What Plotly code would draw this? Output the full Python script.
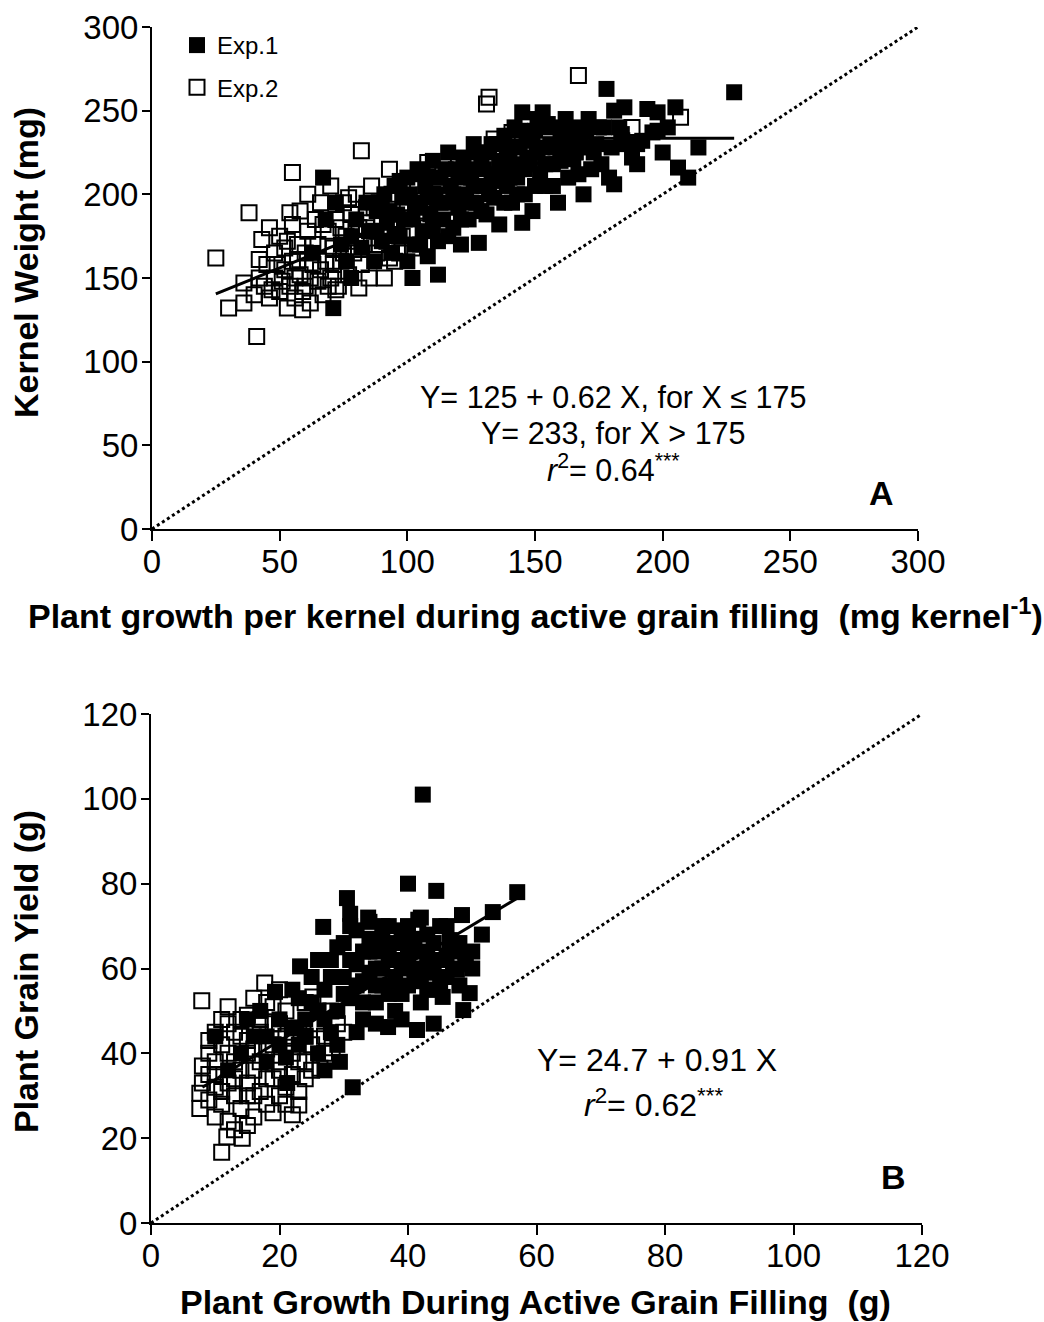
import plotly.graph_objects as go

# ---------------- Panel A data (Kernel weight vs plant growth per kernel) ----------------
a_exp1_x = [76, 78, 80, 82, 84, 85, 87, 88, 90, 91, 92, 94, 95, 96,
            97, 98, 100, 100, 102, 103, 104, 105, 106, 107, 108, 109, 110, 111, 112, 113, 114, 115,
            116, 117, 118, 119, 120, 121, 122, 123, 124, 125, 126, 127, 128, 129, 130, 131, 132, 133, 134, 135,
            136, 137, 138, 139, 140, 141, 142, 143, 144, 145, 145, 146, 147, 148, 149, 150, 151, 152, 153, 154, 155,
            156, 157, 159, 160, 161, 162, 163, 165, 166, 168, 169, 170, 172, 173, 175, 177, 178, 179, 181, 181,
            184, 185, 188, 190, 194, 196, 198, 200, 205, 206, 210, 214, 228,
            67, 71, 102, 112, 68, 72, 74, 78, 63,
            88, 90, 93, 95, 97, 99, 101, 103, 105, 106, 108, 110, 111, 113, 115, 116, 118, 120, 121, 123,
            125, 126, 128, 129, 130, 132, 133, 135, 136, 138, 139, 140, 142, 143, 144, 146, 147, 149, 150, 151,
            153, 154, 156, 157, 158, 160, 162, 164, 166, 167, 170, 171, 174, 176, 180, 183, 186, 192, 190, 198, 202]
a_exp1_y = [160, 175, 185, 168, 195, 178, 160, 190, 172, 200, 183, 165, 205, 188,
            175, 198, 210, 160, 185, 170, 215, 195, 178, 205, 163, 188, 220, 200, 172, 210, 185, 195,
            225, 205, 180, 215, 192, 170, 222, 200, 185, 210, 230, 195, 171, 218, 205, 188, 225, 212, 198, 230,
            182, 215, 235, 205, 222, 195, 240, 210, 228, 183, 249, 200, 232, 218, 190, 238, 225, 212, 249, 205, 242,
            230, 218, 195, 238, 233, 245, 210, 221, 240, 234, 200, 228, 215, 225, 240, 240, 263, 210, 250, 206,
            236, 252, 222, 230, 251, 237, 249, 225, 252, 216, 210, 228, 261,
            210, 132, 150, 152, 185, 195, 170, 150, 165,
            178, 195, 190, 175, 208, 185, 200, 192, 170, 212, 198, 180, 210, 195, 215, 175, 200, 210, 185, 215,
            195, 205, 225, 190, 215, 200, 230, 208, 220, 195, 228, 210, 218, 200, 238, 215, 222, 235, 205, 245,
            228, 218, 240, 205, 228, 220, 230, 236, 225, 212, 238, 245, 230, 218, 228, 240, 230, 232, 218, 238, 240]

a_exp2_x = [25, 30, 36, 36, 38, 41, 42, 43, 46, 54, 55, 61, 53, 59, 72, 81, 91, 93, 82, 93, 108,
            131, 132, 167, 207, 134, 141, 184, 188, 120, 145,
            40, 42, 44, 45, 46, 48, 48, 50, 50, 52, 52, 54, 55, 55, 56, 57, 58, 58, 60, 60, 61, 62, 63, 64,
            65, 65, 66, 67, 68, 69, 70, 70, 71, 72, 73, 74, 75, 76, 77, 78, 79, 80, 81, 82, 83, 84, 85, 86,
            87, 88, 89, 90, 92, 94, 95, 96, 98, 100, 102, 104, 106, 108, 110,
            47, 49, 51, 53, 56, 57, 59, 62, 63, 66, 67, 69, 71, 74, 75, 77, 80, 84, 87, 89, 93, 97]
a_exp2_y = [162, 132, 135, 147, 189, 115, 161, 173, 180, 189, 213, 200, 132, 131, 143, 144, 150, 162, 226, 215, 219,
            254, 258, 271, 246, 233, 237, 232, 240, 218, 230,
            140, 150, 145, 158, 138, 150, 165, 142, 175, 155, 168, 145, 160, 182, 138, 170, 152, 190, 145, 165, 178, 135, 158, 185,
            148, 170, 195, 140, 160, 178, 150, 205, 168, 185, 145, 160, 195, 175, 152, 188, 165, 200, 180, 158, 170, 192, 150, 205,
            178, 165, 195, 185, 172, 200, 160, 185, 175, 195, 168, 205, 190, 180, 200,
            143, 158, 148, 172, 150, 160, 142, 150, 170, 155, 182, 145, 158, 180, 165, 198, 172, 180, 192, 170, 180, 165]

a_fit_x = [25, 175, 228]
a_fit_y = [140.5, 233.5, 233.5]
a_ref = [0, 300]

# ---------------- Panel B data (Plant grain yield vs plant growth) ----------------
b_exp1_x = [42.3, 40, 44.4, 57, 30.5, 31, 26.8, 48.4, 53.2, 51.5, 23.2, 48.9, 47.6, 41.4, 48.6, 36.9, 33.8,
            41.6, 46.5, 49.6, 45.4, 31.4, 29.4, 19.3, 10, 21.2,
            27, 28, 29, 30, 30, 31, 32, 32, 33, 33, 34, 35, 35, 36, 36, 37, 38, 38, 39, 39, 40, 40, 41, 42,
            42, 43, 43, 44, 45, 45, 46, 47, 48, 50, 34, 37, 28, 26, 25, 24, 22, 20, 18, 16, 14, 12, 15, 21,
            17, 26, 27, 23,
            28, 29, 30, 31, 31, 32, 33, 33, 34, 34, 35, 35, 36, 36, 37, 37, 38, 38, 39, 39, 40, 40, 41, 41,
            42, 42, 43, 43, 44, 44, 45, 46, 46, 47, 48, 49, 50, 44, 39, 35, 32, 29, 27, 25, 24, 22, 20, 18, 26, 23]
b_exp1_y = [101, 80, 78.3, 78, 76.6, 72.9, 69.8, 72.6, 73.3, 68, 60.5, 63.7, 59.7, 45.5, 50.2, 46.2, 72,
            71.5, 66.7, 54.2, 53.3, 32, 38, 54.5, 44, 33,
            55, 62, 50, 58, 66, 53, 61, 69, 48, 57, 64, 52, 60, 67, 56, 63, 50, 58, 66, 54, 61, 70, 57, 64,
            52, 60, 68, 55, 62, 70, 58, 64, 56, 60, 71, 70, 45, 50, 58, 48, 46, 42, 38, 44, 40, 36, 48, 39,
            50, 40, 36, 53,
            58, 65, 54, 62, 70, 56, 64, 52, 59, 67, 56, 64, 60, 70, 54, 66, 62, 55, 60, 69, 56, 64, 60, 67,
            58, 72, 63, 55, 66, 59, 57, 63, 70, 60, 66, 61, 64, 47, 48, 47, 45, 42, 48, 52, 44, 55, 48, 44, 62, 42]

b_exp2_x = [7.9, 11, 11.8, 14.2, 7.6, 7.6, 23, 22, 17.7, 20, 26.3, 28.2, 25.2,
            9, 9, 10, 10, 10, 11, 11, 12, 12, 12, 13, 13, 14, 14, 15, 15, 15, 16, 16, 17, 17, 18, 18, 18,
            19, 19, 20, 20, 21, 21, 22, 22, 23, 23, 24, 24, 25, 26, 27, 28, 29, 13, 15, 10, 8, 9, 16, 19,
            24, 12, 16, 20, 14, 27, 30,
            10, 11, 12, 13, 14, 15, 16, 17, 18, 19, 20, 21, 22, 23, 24, 25, 26, 17, 11, 13, 19, 21, 9, 15, 8]
b_exp2_y = [52.4, 16.7, 20.3, 20, 30.6, 27, 27.8, 25.5, 56.6, 55, 36.5, 41.3, 53.3,
            35, 40, 32, 38, 45, 28, 42, 24, 33, 47, 30, 38, 27, 44, 33, 40, 49, 25, 36, 31, 45, 28, 41, 52,
            34, 47, 30, 38, 44, 50, 35, 40, 31, 46, 38, 52, 42, 47, 44, 50, 47, 22, 23, 25, 37, 29, 30, 26,
            34, 51, 53, 47, 48, 40, 45,
            35, 31, 40, 45, 36, 30, 41, 38, 34, 42, 36, 32, 45, 38, 44, 36, 50, 48, 48, 34, 51, 28, 43, 43, 33]

b_fit_x = [8, 57]
b_fit_y = [32.0, 76.6]
b_ref = [0, 120]

FONT = "Arial, Liberation Sans, sans-serif"
W, H = 1044, 1322

filled = dict(symbol="square", size=16, color="black", line=dict(width=0))
hollow = dict(symbol="square-open", size=15, color="black", line=dict(width=2, color="black"))

fig = go.Figure()
# Panel A
fig.add_trace(go.Scatter(x=a_ref, y=a_ref, mode="lines", line=dict(color="black", width=3, dash="dot"),
                         showlegend=False, xaxis="x", yaxis="y"))
fig.add_trace(go.Scatter(x=a_exp1_x, y=a_exp1_y, mode="markers", marker=filled, name="Exp.1",
                         legendgroup="e1", xaxis="x", yaxis="y", cliponaxis=False))
fig.add_trace(go.Scatter(x=a_exp2_x, y=a_exp2_y, mode="markers", marker=hollow, name="Exp.2",
                         legendgroup="e2", xaxis="x", yaxis="y", cliponaxis=False))
fig.add_trace(go.Scatter(x=a_fit_x, y=a_fit_y, mode="lines", line=dict(color="black", width=3),
                         showlegend=False, xaxis="x", yaxis="y"))
# Panel B
fig.add_trace(go.Scatter(x=b_ref, y=b_ref, mode="lines", line=dict(color="black", width=3, dash="dot"),
                         showlegend=False, xaxis="x2", yaxis="y2"))
fig.add_trace(go.Scatter(x=b_exp1_x, y=b_exp1_y, mode="markers", marker=filled, showlegend=False,
                         xaxis="x2", yaxis="y2", cliponaxis=False))
fig.add_trace(go.Scatter(x=b_exp2_x, y=b_exp2_y, mode="markers", marker=hollow, showlegend=False,
                         xaxis="x2", yaxis="y2", cliponaxis=False))
fig.add_trace(go.Scatter(x=b_fit_x, y=b_fit_y, mode="lines", line=dict(color="black", width=3),
                         showlegend=False, xaxis="x2", yaxis="y2"))

axis_common = dict(showline=True, linewidth=2, linecolor="black", ticks="outside",
                   tickwidth=2, tickcolor="black", showgrid=False, zeroline=False, automargin=False,
                   tickfont=dict(family=FONT, size=33, color="black"), fixedrange=True)
x_style = dict(ticklen=10, ticklabelstandoff=-8, **axis_common)
y_style = dict(ticklen=8, ticklabelstandoff=-3, **axis_common)


def px_x(p):
    return p / W


def px_y(p):
    return 1 - p / H


fig.update_layout(
    width=W, height=H, margin=dict(l=0, r=0, t=0, b=0, pad=0, autoexpand=False),
    paper_bgcolor="white", plot_bgcolor="white",
    xaxis=dict(domain=[px_x(152), px_x(918)], range=[0, 300], tickvals=[0, 50, 100, 150, 200, 250, 300],
               anchor="y", **x_style),
    yaxis=dict(domain=[px_y(529), px_y(27)], range=[0, 300], tickvals=[0, 50, 100, 150, 200, 250, 300],
               anchor="x", **y_style),
    xaxis2=dict(domain=[px_x(151), px_x(922)], range=[0, 120], tickvals=[0, 20, 40, 60, 80, 100, 120],
                anchor="y2", **x_style),
    yaxis2=dict(domain=[px_y(1223), px_y(714)], range=[0, 120], tickvals=[0, 20, 40, 60, 80, 100, 120],
                anchor="x2", **y_style),
    showlegend=True,
    legend=dict(x=px_x(177), y=px_y(23), xanchor="left", yanchor="top", bgcolor="rgba(0,0,0,0)",
                font=dict(family=FONT, size=24, color="black"), traceorder="grouped", tracegroupgap=8,
                itemsizing="trace"),
)


def note(text, xp, yp, size, bold=False, angle=0):
    return dict(text=f"<b>{text}</b>" if bold else text, x=px_x(xp), y=px_y(yp), xref="paper",
                yref="paper", xanchor="center", yanchor="middle", showarrow=False, textangle=angle,
                font=dict(family=FONT, size=size, color="black"))


ann = [
    note("Plant growth per kernel during active grain filling  (mg kernel<sup>-1</sup>)", 535, 613, 34, True),
    note("Kernel Weight (mg)", 26, 263, 34, True, -90),
    note("Plant Growth During Active Grain Filling  (g)", 535, 1302, 34, True),
    note("Plant Grain Yield (g)", 26, 972, 34, True, -90),
    note("Y= 125 + 0.62 X, for X \u2264 175", 613, 397, 30.5),
    note("Y= 233, for X > 175", 613, 433, 30.5),
    note("<i>r</i><sup>2</sup>= 0.64<sup>***</sup>", 613, 468, 30.5),
    note("A", 881, 493, 34, True),
    note("Y= 24.7 + 0.91 X", 657, 1060, 32),
    note("<i>r</i><sup>2</sup>= 0.62<sup>***</sup>", 653, 1103, 32),
    note("B", 893, 1177, 34, True),
]

fig.update_layout(annotations=ann)
fig.write_html("out.html")
